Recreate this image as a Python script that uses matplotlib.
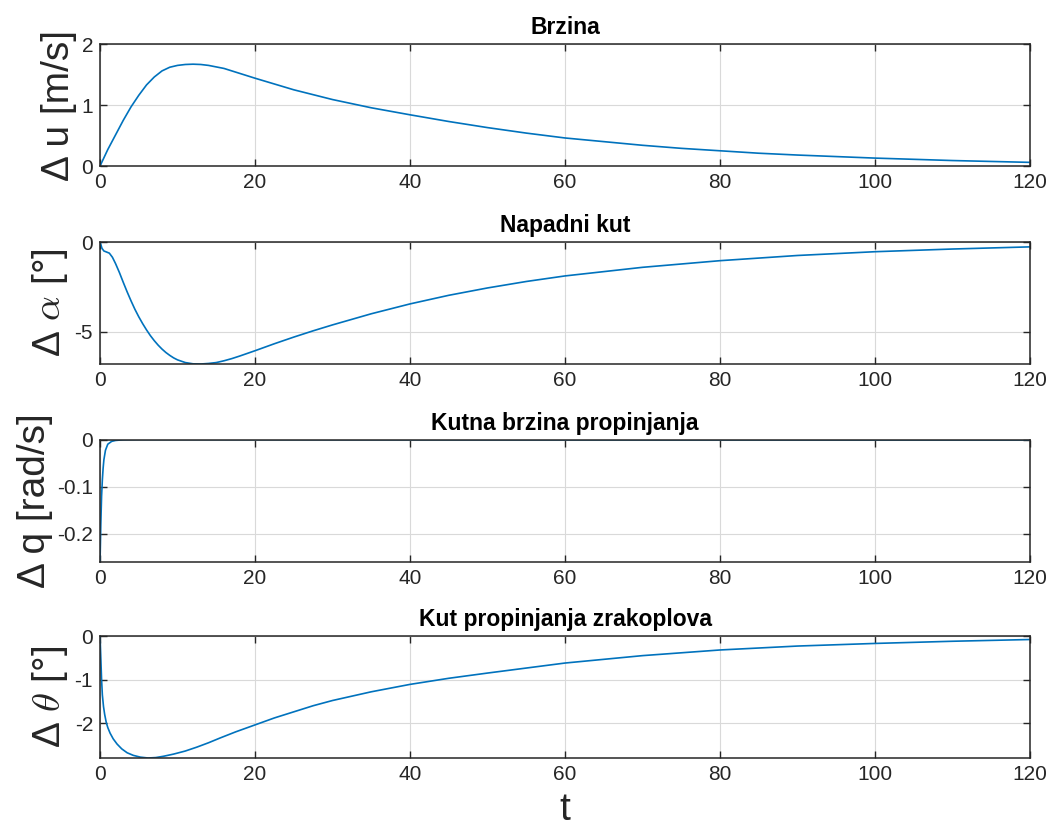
import matplotlib
matplotlib.use('Agg')
import matplotlib.pyplot as plt
from matplotlib.ticker import FormatStrFormatter

plt.rcParams['font.family'] = ['Liberation Sans', 'DejaVu Sans']
plt.rcParams['mathtext.fontset'] = 'cm'
plt.rcParams['axes.unicode_minus'] = False

# Brzina (delta u)
t_u = [0, 1, 2, 3, 4, 5, 6, 7, 8, 9, 10, 11, 12, 13, 14, 15, 16, 17, 18, 19, 20,
       25, 30, 35, 40, 45, 50, 55, 60, 65, 70, 75, 80, 85, 90, 100, 110, 120]
du = [0, 0.27, 0.51, 0.75, 0.97, 1.16, 1.33, 1.46, 1.56, 1.62, 1.65, 1.665, 1.67, 1.665, 1.65, 1.625,
      1.6, 1.56, 1.52, 1.48, 1.44,
      1.25, 1.09, 0.955, 0.84, 0.73, 0.63, 0.54, 0.46, 0.4, 0.34, 0.29, 0.25, 0.21, 0.18, 0.13, 0.09, 0.06]

# Napadni kut (delta alpha)
t_a = [0, 0.25, 0.5, 0.8, 1.2, 1.6, 2, 2.5, 3, 3.5, 4, 4.5, 5, 5.5, 6, 6.5, 7, 7.5, 8, 8.5, 9, 9.5,
       10, 11, 12, 13, 14, 15, 16, 17, 18, 19, 20, 22.5, 25, 27.5, 30, 35, 40, 45, 50, 55, 60,
       70, 80, 90, 100, 110, 120]
da = [0, -0.35, -0.5, -0.55, -0.62, -0.85, -1.2, -1.7, -2.25, -2.78, -3.28, -3.75, -4.17, -4.55, -4.9,
      -5.22, -5.5, -5.75, -5.97, -6.16, -6.32, -6.46, -6.57, -6.72, -6.79, -6.8, -6.77, -6.72, -6.62,
      -6.5, -6.36, -6.21, -6.06, -5.67, -5.3, -4.95, -4.62, -4.0, -3.45, -2.97, -2.56, -2.2, -1.89,
      -1.41, -1.04, -0.75, -0.54, -0.39, -0.27]

# Kutna brzina propinjanja (delta q)
t_q = [0, 0.05, 0.1, 0.15, 0.2, 0.3, 0.4, 0.5, 0.7, 1.0, 1.5, 2, 3, 5, 10, 20, 40, 60, 80, 100, 120]
dq = [-0.26, -0.22, -0.18, -0.15, -0.12, -0.085, -0.06, -0.042, -0.022, -0.009, -0.003, -0.001,
      0.0005, 0.001, 0.001, 0.0008, 0.0005, 0.0003, 0.0002, 0.0001, 0.0001]

# Kut propinjanja zrakoplova (delta theta)
t_th = [0, 0.1, 0.2, 0.3, 0.45, 0.6, 0.8, 1, 1.3, 1.7, 2.2, 2.8, 3.5, 4.3, 5.2, 6.2, 7.2, 8.2, 9.5,
        11, 12.5, 14, 15.5, 17.5, 20, 22.5, 25, 27.5, 30, 35, 40, 45, 50, 60, 70, 80, 90, 100, 110, 120]
dth = [0, -0.5, -1.0, -1.35, -1.62, -1.8, -1.98, -2.1, -2.23, -2.36, -2.48, -2.59, -2.68, -2.74, -2.78,
       -2.8, -2.79, -2.76, -2.71, -2.64, -2.55, -2.45, -2.34, -2.2, -2.04, -1.88, -1.74, -1.6, -1.48,
       -1.28, -1.11, -0.97, -0.85, -0.62, -0.45, -0.32, -0.23, -0.17, -0.12, -0.08]

titles = ['Brzina', 'Napadni kut', 'Kutna brzina propinjanja', 'Kut propinjanja zrakoplova']
ylabels = ['Δ u [m/s]', r'Δ $\alpha$ [°]', 'Δ q [rad/s]', r'Δ $\theta$ [°]']
xticks = [0, 20, 40, 60, 80, 100, 120]
yticks = [[0, 1, 2], [-5, 0], [-0.2, -0.1, 0], [-2, -1, 0]]
ylims = [(0, 2), (-6.8, 0), (-0.26, 0), (-2.8, 0)]
series = [(t_u, du), (t_a, da), (t_q, dq), (t_th, dth)]

fig = plt.figure(figsize=(10.54, 8.36), dpi=100)
bottoms = [0.8014, 0.5646, 0.3278, 0.0933]
line_col = '#0072BD'
ax_col = '#262626'

for i in range(4):
    ax = fig.add_axes([0.0949, bottoms[i], 0.8824, 0.1459])
    t, y = series[i]
    ax.plot(t, y, color=line_col, linewidth=1.2)
    ax.set_xlim(0, 120)
    ax.set_ylim(*ylims[i])
    ax.set_xticks(xticks)
    ax.set_yticks(yticks[i])
    ax.yaxis.set_major_formatter(FormatStrFormatter('%g'))
    ax.grid(True, color='#d9d9d9', linewidth=0.8)
    ax.tick_params(direction='in', length=5, width=1, colors=ax_col, labelsize=15,
                   top=True, right=True, pad=5)
    for s in ax.spines.values():
        s.set_color(ax_col)
        s.set_linewidth(1.1)
    ax.set_title(titles[i], fontsize=16.5, fontweight='bold', pad=7, color='black')
    ax.set_ylabel(ylabels[i], fontsize=28, labelpad=3, color=ax_col)
    if i == 3:
        ax.set_xlabel('t', fontsize=28, labelpad=6, color=ax_col)

fig.savefig('out.png', dpi=100, facecolor='white')
